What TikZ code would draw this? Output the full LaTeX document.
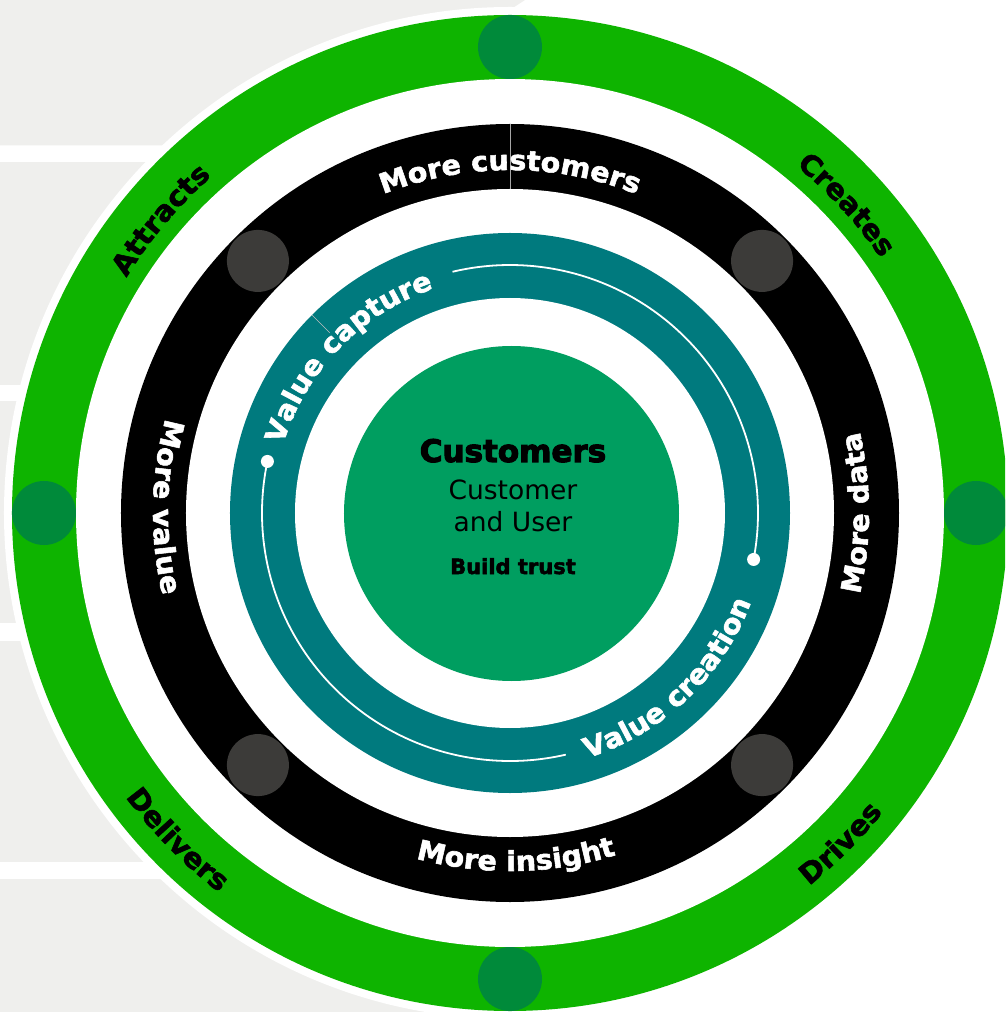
\documentclass[tikz,border=0pt]{standalone}
\usepackage{fontspec}
\setmainfont[BoldFeatures={FakeBold=2.5}]{DejaVu Sans}
\newfontfamily\ringfont[FakeStretch=1.04, BoldFeatures={FakeBold=2}]{DejaVu Sans}
\newfontfamily\heavyfont[BoldFeatures={FakeBold=3.5}]{DejaVu Sans}
\usetikzlibrary{decorations.text}
\definecolor{ringgreen}{HTML}{0EB400}
\definecolor{dotgreen}{HTML}{008A3A}
\definecolor{tealring}{HTML}{007A7E}
\definecolor{coregreen}{HTML}{009E60}
\definecolor{dotgrey}{HTML}{3C3B39}
\definecolor{panelgrey}{HTML}{EFEFED}
\newcommand\ringlabelfont{\ringfont\bfseries\fontsize{27.5}{31}\selectfont}
\newcommand\greenlabelfont{\ringfont\bfseries\fontsize{28}{32}\selectfont}
\tikzset{
  arclabel/.style={decorate, decoration={text along path, text align=center, text color=#1}},
  greendot/.style={circle, fill=dotgreen, minimum size=64pt, inner sep=0pt},
  greydot/.style={circle, fill=dotgrey, minimum size=62pt, inner sep=0pt},
  linedot/.style={circle, fill=white, minimum size=13pt, inner sep=0pt},
  seam/.style={line width=0.6pt, draw=gray!70},
  coretext/.style={anchor=base, text=black, inner sep=0pt}
}
\begin{document}
\begin{tikzpicture}[x=1pt,y=1pt]
\useasboundingbox (-510,-499) rectangle (495,513);
\clip (-510,-499) rectangle (495,513);
\fill[white] (-510,-499) rectangle (495,513);
% background panels
\fill[panelgrey] (-510,513) -- (15,513) -- (-5,500) -- (-5,367.5) -- (-510,367.5) -- cycle;
\fill[panelgrey] (-510,350.5) rectangle (-5,128);
\fill[panelgrey] (-510,112) rectangle (-5,-110);
\fill[panelgrey] (-510,-128) rectangle (-5,-349);
\fill[panelgrey] (-510,-366) rectangle (-5,-499);
% rings
\fill[white] (0,0) circle[radius=506];
\fill[ringgreen] (0,0) circle[radius=498];
\fill[white] (0,0) circle[radius=434];
\fill[black] (0,0) circle[radius=389];
\fill[white] (0,0) circle[radius=324];
\fill[tealring] (0,0) circle[radius=280];
\fill[white] (0,0) circle[radius=215];
\node[circle, fill=coregreen, minimum size=335pt, inner sep=0pt] (core) at (1.5,-0.5) {};
% seams
\draw[seam] (90:324) -- (90:389);
\draw[seam, draw=gray!50] (135:255) -- (135:280);
% dots on the green ring
\node[greendot] (gtop) at (90:466) {};
\node[greendot] (gleft) at (180:466) {};
\node[greendot] (gbottom) at (270:466) {};
\node[greendot] (gright) at (0:466) {};
% dots on the black ring
\node[greydot] (q1) at (45:356.5) {};
\node[greydot] (q2) at (135:356.5) {};
\node[greydot] (q3) at (225:356.5) {};
\node[greydot] (q4) at (315:356.5) {};
% thin white line in the teal ring
\draw[white, line width=1.8pt] (103.4:248) arc[start angle=103.4, end angle=-10.8, radius=248];
\draw[white, line width=1.8pt] (168:248) arc[start angle=168, end angle=283, radius=248];
\node[linedot] (e1) at (-10.8:248) {};
\node[linedot] (e2) at (168:248) {};
% black ring labels
\path[arclabel=white, decoration={text={|\ringlabelfont|More customers}}] (130:343) arc[start angle=130, end angle=50, radius=343];
\path[arclabel=white, decoration={text={|\ringlabelfont|More insight}}] (-129:358) arc[start angle=-129, end angle=-49, radius=358];
\path[arclabel=white, decoration={text={|\ringlabelfont|More value}}] (139:357) arc[start angle=139, end angle=219, radius=357];
\path[arclabel=white, decoration={text={|\ringlabelfont|More data}}] (-40:359) arc[start angle=-40, end angle=40, radius=359];
% green ring labels
\path[arclabel=black, decoration={text={|\greenlabelfont|Attracts}}] (170:450) arc[start angle=170, end angle=110, radius=450];
\path[arclabel=black, decoration={text={|\greenlabelfont|Creates}}] (72.5:450) arc[start angle=72.5, end angle=12.5, radius=450];
\path[arclabel=black, decoration={text={|\greenlabelfont|Delivers}}] (194.5:478) arc[start angle=194.5, end angle=254.5, radius=478];
\path[arclabel=black, decoration={text={|\greenlabelfont|Drives}}] (-75:478) arc[start angle=-75, end angle=-15, radius=478];
% teal ring labels
\path[arclabel=white, decoration={text={|\ringlabelfont|Value capture}}] (196:237) arc[start angle=196, end angle=76, radius=237];
\path[arclabel=white, decoration={text={|\ringlabelfont|Value creation}}] (-106.4:257) arc[start angle=-106.4, end angle=13.6, radius=257];
% core texts
\node[coretext, font=\heavyfont\bfseries\fontsize{31}{36}\selectfont] (t1) at (3,51) {Customers};
\node[coretext, font=\fontsize{26.5}{30}\selectfont] (t2) at (3,13) {Customer};
\node[coretext, font=\fontsize{26.5}{30}\selectfont] (t3) at (3,-18) {and User};
\node[coretext, font=\bfseries\fontsize{21}{25}\selectfont] (t4) at (3,-61) {Build trust};
\end{tikzpicture}
\end{document}
